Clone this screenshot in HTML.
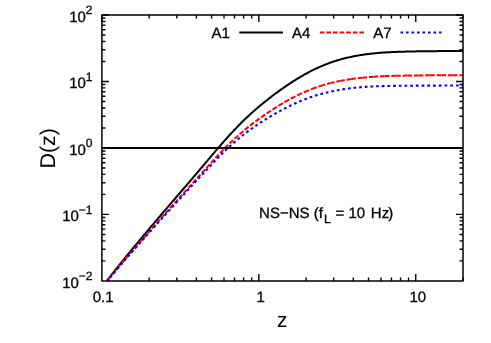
<!DOCTYPE html>
<html><head><meta charset="utf-8"><title>D(z)</title>
<style>
html,body{margin:0;padding:0;background:#fff;}
body{width:491px;height:343px;overflow:hidden;}
svg{display:block;font-family:"Liberation Sans",sans-serif;fill:#000;will-change:transform;text-rendering:geometricPrecision;}
text{stroke:#000;stroke-width:0.3px;}
text[stroke=none]{stroke:none;}
</style></head><body>
<svg width="491" height="343" viewBox="0 0 491 343">
<rect width="491" height="343" fill="#fff"/>
<g fill="none" stroke-linejoin="round">
<path d="M106.85,280.90 L107.85,279.61 L108.85,278.32 L109.85,277.03 L110.85,275.75 L111.85,274.47 L112.85,273.19 L113.85,271.92 L114.85,270.66 L115.85,269.39 L116.85,268.13 L117.85,266.88 L118.85,265.62 L119.85,264.37 L120.85,263.13 L121.85,261.89 L122.85,260.65 L123.85,259.41 L124.85,258.18 L125.85,256.95 L126.85,255.72 L127.85,254.50 L128.85,253.28 L129.85,252.06 L130.85,250.84 L131.85,249.63 L132.85,248.41 L133.85,247.20 L134.85,246.00 L135.85,244.79 L136.85,243.59 L137.85,242.39 L138.85,241.19 L139.85,239.99 L140.85,238.79 L141.85,237.60 L142.85,236.40 L143.85,235.21 L144.85,234.02 L145.85,232.83 L146.85,231.64 L147.85,230.45 L148.85,229.27 L149.85,228.08 L150.85,226.90 L151.85,225.72 L152.85,224.54 L153.85,223.36 L154.85,222.18 L155.85,221.00 L156.85,219.83 L157.85,218.65 L158.85,217.48 L159.85,216.31 L160.85,215.13 L161.85,213.96 L162.85,212.79 L163.85,211.62 L164.85,210.46 L165.85,209.29 L166.85,208.12 L167.85,206.96 L168.85,205.79 L169.85,204.63 L170.85,203.46 L171.85,202.30 L172.85,201.14 L173.85,199.98 L174.85,198.81 L175.85,197.65 L176.85,196.49 L177.85,195.33 L178.85,194.17 L179.85,193.01 L180.85,191.85 L181.85,190.69 L182.85,189.52 L183.85,188.36 L184.85,187.20 L185.85,186.04 L186.85,184.87 L187.85,183.71 L188.85,182.54 L189.85,181.37 L190.85,180.21 L191.85,179.04 L192.85,177.87 L193.85,176.69 L194.85,175.52 L195.85,174.35 L196.85,173.17 L197.85,171.99 L198.85,170.82 L199.85,169.64 L200.85,168.46 L201.85,167.27 L202.85,166.09 L203.85,164.91 L204.85,163.72 L205.85,162.54 L206.85,161.35 L207.85,160.17 L208.85,158.98 L209.85,157.79 L210.85,156.60 L211.85,155.42 L212.85,154.23 L213.85,153.05 L214.85,151.87 L215.85,150.69 L216.85,149.52 L217.85,148.35 L218.85,147.19 L219.85,146.03 L220.85,144.88 L221.85,143.73 L222.85,142.59 L223.85,141.46 L224.85,140.33 L225.85,139.21 L226.85,138.10 L227.85,136.99 L228.85,135.89 L229.85,134.80 L230.85,133.72 L231.85,132.64 L232.85,131.57 L233.85,130.51 L234.85,129.46 L235.85,128.41 L236.85,127.37 L237.85,126.34 L238.85,125.31 L239.85,124.30 L240.85,123.29 L241.85,122.29 L242.85,121.30 L243.85,120.32 L244.85,119.34 L245.85,118.38 L246.85,117.43 L247.85,116.48 L248.85,115.55 L249.85,114.63 L250.85,113.71 L251.85,112.81 L252.85,111.91 L253.85,111.02 L254.85,110.14 L255.85,109.27 L256.85,108.41 L257.85,107.56 L258.85,106.72 L259.85,105.88 L260.85,105.05 L261.85,104.22 L262.85,103.41 L263.85,102.60 L264.85,101.79 L265.85,100.99 L266.85,100.20 L267.85,99.41 L268.85,98.63 L269.85,97.86 L270.85,97.09 L271.85,96.32 L272.85,95.56 L273.85,94.81 L274.85,94.06 L275.85,93.32 L276.85,92.58 L277.85,91.85 L278.85,91.12 L279.85,90.40 L280.85,89.68 L281.85,88.97 L282.85,88.27 L283.85,87.57 L284.85,86.88 L285.85,86.19 L286.85,85.51 L287.85,84.84 L288.85,84.17 L289.85,83.51 L290.85,82.86 L291.85,82.21 L292.85,81.57 L293.85,80.93 L294.85,80.30 L295.85,79.68 L296.85,79.07 L297.85,78.46 L298.85,77.86 L299.85,77.26 L300.85,76.67 L301.85,76.09 L302.85,75.52 L303.85,74.95 L304.85,74.39 L305.85,73.83 L306.85,73.29 L307.85,72.75 L308.85,72.21 L309.85,71.69 L310.85,71.17 L311.85,70.66 L312.85,70.16 L313.85,69.66 L314.85,69.17 L315.85,68.69 L316.85,68.22 L317.85,67.76 L318.85,67.30 L319.85,66.86 L320.85,66.42 L321.85,65.99 L322.85,65.56 L323.85,65.15 L324.85,64.75 L325.85,64.35 L326.85,63.96 L327.85,63.58 L328.85,63.21 L329.85,62.85 L330.85,62.49 L331.85,62.15 L332.85,61.81 L333.85,61.48 L334.85,61.15 L335.85,60.84 L336.85,60.53 L337.85,60.23 L338.85,59.93 L339.85,59.64 L340.85,59.36 L341.85,59.09 L342.85,58.82 L343.85,58.56 L344.85,58.30 L345.85,58.05 L346.85,57.81 L347.85,57.58 L348.85,57.35 L349.85,57.12 L350.85,56.91 L351.85,56.69 L352.85,56.49 L353.85,56.29 L354.85,56.10 L355.85,55.91 L356.85,55.73 L357.85,55.55 L358.85,55.38 L359.85,55.22 L360.85,55.06 L361.85,54.90 L362.85,54.75 L363.85,54.61 L364.85,54.46 L365.85,54.33 L366.85,54.20 L367.85,54.07 L368.85,53.95 L369.85,53.83 L370.85,53.71 L371.85,53.60 L372.85,53.49 L373.85,53.39 L374.85,53.29 L375.85,53.19 L376.85,53.10 L377.85,53.01 L378.85,52.92 L379.85,52.84 L380.85,52.76 L381.85,52.69 L382.85,52.61 L383.85,52.54 L384.85,52.48 L385.85,52.42 L386.85,52.36 L387.85,52.30 L388.85,52.24 L389.85,52.19 L390.85,52.14 L391.85,52.10 L392.85,52.05 L393.85,52.01 L394.85,51.97 L395.85,51.93 L396.85,51.89 L397.85,51.86 L398.85,51.82 L399.85,51.79 L400.85,51.76 L401.85,51.73 L402.85,51.70 L403.85,51.67 L404.85,51.64 L405.85,51.61 L406.85,51.58 L407.85,51.56 L408.85,51.53 L409.85,51.51 L410.85,51.48 L411.85,51.46 L412.85,51.44 L413.85,51.42 L414.85,51.40 L415.85,51.38 L416.85,51.36 L417.85,51.34 L418.85,51.33 L419.85,51.31 L420.85,51.29 L421.85,51.28 L422.85,51.26 L423.85,51.25 L424.85,51.24 L425.85,51.23 L426.85,51.21 L427.85,51.20 L428.85,51.19 L429.85,51.18 L430.85,51.17 L431.85,51.16 L432.85,51.15 L433.85,51.15 L434.85,51.14 L435.85,51.13 L436.85,51.13 L437.85,51.12 L438.85,51.11 L439.85,51.11 L440.85,51.10 L441.85,51.10 L442.85,51.10 L443.85,51.09 L444.85,51.09 L445.85,51.09 L446.85,51.08 L447.85,51.08 L448.85,51.08 L449.85,51.08 L450.85,51.08 L451.85,51.07 L452.85,51.07 L453.85,51.07 L454.85,51.07 L455.85,51.07 L456.85,51.07 L457.85,51.07 L458.85,51.07 L459.85,51.07 L460.85,51.07 L461.85,51.07 L462.85,51.07 L462.96,51.07" stroke="#000" stroke-width="2.0"/>
<path d="M107.21,280.90 L107.27,280.82 M108.46,279.34 L108.97,278.71 L109.47,278.09 L109.97,277.47 L110.47,276.85 L110.98,276.23 L111.48,275.60 L111.49,275.60 M112.69,274.13 L113.19,273.51 L113.70,272.89 L114.21,272.27 L114.72,271.65 L115.22,271.04 L115.73,270.42 L115.74,270.41 M116.95,268.95 L117.46,268.33 L117.97,267.72 L118.49,267.10 L119.00,266.49 L119.51,265.88 L120.02,265.26 L120.03,265.25 M121.25,263.80 L121.77,263.19 L122.29,262.58 L122.80,261.96 L123.32,261.35 L123.84,260.74 L124.35,260.13 L124.36,260.12 M125.59,258.68 L126.11,258.07 L126.63,257.46 L127.15,256.85 L127.67,256.24 L128.19,255.64 L128.72,255.03 L128.73,255.02 M129.97,253.58 L130.49,252.97 L131.01,252.37 L131.53,251.76 L132.06,251.16 L132.58,250.55 L133.11,249.95 L133.12,249.93 M134.37,248.50 L134.89,247.89 L135.42,247.29 L135.94,246.69 L136.47,246.09 L137.00,245.48 L137.52,244.88 L137.54,244.86 M138.79,243.43 L139.32,242.83 L139.84,242.23 L140.37,241.63 L140.90,241.03 L141.43,240.43 L141.96,239.83 L141.97,239.81 M143.23,238.38 L143.76,237.78 L144.29,237.18 L144.81,236.58 L145.34,235.98 L145.87,235.38 L146.40,234.78 L146.42,234.76 M147.68,233.34 L148.21,232.74 L148.74,232.14 L149.27,231.54 L149.80,230.94 L150.33,230.34 L150.86,229.74 L150.88,229.72 M152.14,228.30 L152.67,227.70 L153.21,227.10 L153.74,226.50 L154.27,225.90 L154.80,225.31 L155.33,224.71 L155.35,224.68 M156.62,223.26 L157.15,222.66 L157.68,222.07 L158.21,221.47 L158.75,220.87 L159.28,220.28 L159.81,219.68 L159.84,219.65 M161.10,218.23 L161.63,217.64 L162.17,217.04 L162.70,216.44 L163.23,215.85 L163.77,215.25 L164.30,214.65 L164.33,214.62 M165.59,213.21 L166.13,212.61 L166.66,212.01 L167.19,211.42 L167.73,210.82 L168.26,210.23 L168.79,209.63 L168.82,209.60 M170.09,208.18 L170.63,207.59 L171.16,206.99 L171.70,206.40 L172.23,205.80 L172.76,205.21 L173.30,204.61 L173.33,204.58 M174.60,203.16 L175.13,202.57 L175.67,201.97 L176.20,201.38 L176.74,200.78 L177.27,200.19 L177.81,199.59 L177.84,199.56 M179.11,198.15 L179.65,197.55 L180.18,196.96 L180.72,196.36 L181.26,195.77 L181.79,195.17 L182.33,194.58 L182.36,194.54 M183.63,193.13 L184.17,192.54 L184.71,191.94 L185.24,191.35 L185.78,190.75 L186.31,190.16 L186.85,189.57 L186.89,189.52 M188.16,188.11 L188.70,187.52 L189.23,186.93 L189.77,186.33 L190.31,185.74 L190.84,185.15 L191.38,184.55 L191.42,184.51 M192.69,183.10 L193.23,182.51 L193.76,181.91 L194.30,181.32 L194.84,180.73 L195.37,180.13 L195.91,179.54 L195.95,179.49 M197.23,178.08 L197.76,177.49 L198.30,176.90 L198.84,176.30 L199.37,175.71 L199.91,175.12 L200.45,174.52 L200.49,174.48 M201.77,173.07 L202.30,172.48 L202.84,171.88 L203.38,171.29 L203.92,170.70 L204.45,170.10 L204.99,169.51 L205.04,169.46 M206.31,168.05 L206.85,167.46 L207.39,166.87 L207.93,166.28 L208.46,165.68 L209.00,165.09 L209.54,164.50 L209.59,164.45 M210.86,163.04 L211.40,162.45 L211.94,161.86 L212.48,161.27 L213.02,160.68 L213.56,160.09 L214.10,159.50 L214.15,159.44 M215.44,158.05 L215.98,157.46 L216.53,156.87 L217.07,156.29 L217.62,155.70 L218.16,155.12 L218.71,154.54 L218.77,154.48 M220.07,153.10 L220.62,152.52 L221.18,151.94 L221.73,151.37 L222.29,150.79 L222.85,150.22 L223.41,149.65 L223.46,149.59 M224.80,148.24 L225.36,147.67 L225.93,147.10 L226.49,146.54 L227.06,145.98 L227.63,145.42 L228.20,144.86 L228.26,144.80 M229.63,143.48 L230.21,142.92 L230.79,142.37 L231.37,141.82 L231.95,141.27 L232.53,140.73 L233.12,140.18 L233.18,140.12 M234.58,138.83 L235.17,138.29 L235.76,137.75 L236.35,137.22 L236.95,136.68 L237.54,136.15 L238.14,135.62 L238.21,135.56 M239.63,134.30 L240.23,133.77 L240.84,133.25 L241.44,132.72 L242.05,132.20 L242.66,131.68 L243.27,131.16 L243.34,131.10 M244.79,129.88 L245.41,129.37 L246.02,128.86 L246.64,128.36 L247.26,127.85 L247.89,127.35 L248.51,126.84 L248.58,126.78 M250.07,125.60 L250.70,125.11 L251.33,124.62 L251.96,124.13 L252.60,123.64 L253.23,123.15 L253.87,122.67 L253.95,122.61 M255.47,121.46 L256.11,120.99 L256.75,120.51 L257.40,120.04 L258.04,119.57 L258.69,119.10 L259.34,118.63 L259.47,118.54 M261.01,117.44 L261.67,116.98 L262.32,116.52 L262.98,116.06 L263.64,115.60 L264.29,115.15 L264.95,114.69 L265.13,114.58 M266.70,113.51 L267.36,113.06 L268.03,112.62 L268.69,112.17 L269.36,111.73 L270.03,111.29 L270.69,110.85 L270.92,110.70 M272.51,109.67 L273.18,109.23 L273.86,108.80 L274.53,108.37 L275.21,107.94 L275.88,107.52 L276.56,107.09 L276.84,106.92 M278.45,105.91 L279.13,105.50 L279.81,105.08 L280.50,104.66 L281.18,104.25 L281.87,103.84 L282.55,103.43 L282.89,103.23 M284.52,102.27 L285.22,101.87 L285.91,101.47 L286.60,101.07 L287.30,100.67 L288.00,100.28 L288.69,99.89 L289.08,99.68 M290.75,98.76 L291.45,98.38 L292.16,98.01 L292.87,97.63 L293.57,97.26 L294.29,96.89 L295.00,96.53 L295.45,96.30 M297.15,95.45 L297.87,95.09 L298.59,94.74 L299.31,94.40 L300.03,94.05 L300.75,93.71 L301.48,93.38 L302.00,93.14 M303.73,92.36 L304.46,92.04 L305.20,91.72 L305.93,91.40 L306.67,91.09 L307.41,90.78 L308.15,90.47 L308.89,90.17 L309.00,90.12 M310.77,89.42 L311.51,89.13 L312.26,88.84 L313.01,88.56 L313.75,88.28 L314.51,88.00 L315.26,87.73 L316.01,87.46 L316.70,87.22 M318.50,86.60 L319.26,86.35 L320.02,86.10 L320.78,85.85 L321.54,85.61 L322.31,85.37 L323.07,85.14 L323.84,84.91 L324.60,84.68 L325.18,84.52 M327.01,84.00 L327.78,83.79 L328.56,83.58 L329.33,83.38 L330.11,83.18 L330.64,83.05 M330.88,82.99 L331.65,82.80 L332.43,82.61 L333.21,82.42 L333.99,82.24 L334.52,82.12 M336.38,81.71 L337.16,81.54 L337.94,81.38 L338.73,81.22 L339.51,81.06 L340.30,80.91 L340.44,80.88 M340.69,80.83 L341.48,80.68 L342.26,80.53 L343.05,80.39 L343.84,80.25 L344.62,80.11 L344.77,80.08 M346.65,79.77 L347.44,79.64 L348.23,79.51 L349.02,79.39 L349.81,79.27 L350.60,79.15 L351.12,79.08 M351.37,79.04 L352.16,78.93 L352.95,78.82 L353.74,78.71 L354.54,78.61 L355.33,78.51 L355.85,78.44 M357.74,78.22 L358.53,78.12 L359.33,78.03 L360.13,77.95 L360.92,77.86 L361.72,77.78 L362.25,77.72 M362.50,77.70 L363.29,77.62 L364.09,77.55 L364.89,77.47 L365.68,77.40 L366.48,77.33 L367.01,77.28 M368.91,77.12 L369.71,77.06 L370.50,77.00 L371.30,76.94 L372.10,76.88 L372.90,76.82 L373.44,76.79 M373.69,76.77 L374.49,76.72 L375.29,76.66 L376.08,76.61 L376.88,76.57 L377.68,76.52 L378.23,76.49 M380.12,76.38 L380.92,76.34 L381.72,76.30 L382.52,76.26 L383.32,76.23 L384.12,76.19 L384.67,76.17 M384.92,76.16 L385.72,76.12 L386.52,76.09 L387.32,76.06 L388.12,76.03 L388.92,76.01 L389.47,75.99 M391.37,75.93 L392.17,75.90 L392.97,75.88 L393.77,75.86 L394.57,75.84 L395.37,75.82 L395.94,75.80 M396.19,75.80 L396.99,75.78 L397.79,75.76 L398.59,75.74 L399.39,75.73 L400.19,75.71 L400.75,75.70 M402.65,75.66 L403.45,75.65 L404.25,75.63 L405.05,75.62 L405.85,75.60 L406.65,75.59 L407.22,75.58 M407.47,75.58 L408.27,75.56 L409.07,75.55 L409.87,75.54 L410.67,75.53 L411.47,75.52 L412.05,75.51 M413.95,75.48 L414.75,75.47 L415.55,75.46 L416.35,75.45 L417.15,75.44 L417.95,75.43 L418.53,75.43 M418.78,75.43 L419.58,75.42 L420.38,75.41 L421.18,75.40 L421.98,75.39 L422.78,75.39 L423.36,75.38 M425.26,75.37 L426.06,75.36 L426.86,75.35 L427.66,75.35 L428.46,75.34 L429.26,75.34 L429.85,75.33 M430.10,75.33 L430.90,75.33 L431.70,75.32 L432.50,75.32 L433.30,75.31 L434.10,75.31 L434.70,75.31 M436.60,75.30 L437.40,75.30 L438.20,75.29 L439.00,75.29 L439.80,75.29 L440.60,75.29 L441.20,75.28 M441.45,75.28 L442.25,75.28 L443.05,75.28 L443.85,75.28 L444.65,75.28 L445.45,75.28 L446.05,75.27 M447.95,75.27 L448.75,75.27 L449.55,75.27 L450.35,75.27 L451.15,75.27 L451.95,75.27 L452.56,75.27 M452.81,75.27 L453.61,75.27 L454.41,75.27 L455.21,75.27 L456.01,75.26 L456.81,75.26 L457.43,75.26 M459.33,75.26 L460.13,75.26 L460.93,75.26 L461.73,75.26 L462.53,75.26 L462.96,75.26" stroke="#ff0000" stroke-width="2.0"/>
<path d="M107.32,280.90 L107.83,280.28 L108.21,279.82 M109.99,277.66 L110.50,277.04 L111.01,276.43 L111.52,275.81 L111.72,275.58 M113.51,273.43 L114.03,272.81 L114.54,272.20 L115.06,271.59 L115.25,271.36 M117.06,269.21 L117.58,268.60 L118.09,267.99 L118.61,267.38 L118.81,267.15 M120.63,265.02 L121.15,264.41 L121.67,263.80 L122.19,263.19 L122.39,262.97 M124.22,260.84 L124.74,260.23 L125.26,259.63 L125.79,259.02 L125.98,258.79 M127.83,256.67 L128.35,256.07 L128.88,255.46 L129.41,254.86 L129.60,254.64 M131.46,252.52 L131.98,251.92 L132.51,251.32 L133.04,250.71 L133.24,250.49 M135.10,248.38 L135.63,247.78 L136.16,247.18 L136.69,246.58 L136.89,246.35 M138.76,244.25 L139.29,243.65 L139.82,243.05 L140.35,242.45 L140.55,242.23 M142.43,240.12 L142.96,239.53 L143.49,238.93 L144.02,238.33 L144.22,238.11 M146.10,236.01 L146.64,235.41 L147.17,234.81 L147.71,234.22 L147.91,233.99 M149.79,231.89 L150.33,231.30 L150.86,230.70 L151.40,230.11 L151.60,229.88 M153.49,227.79 L154.02,227.19 L154.56,226.60 L155.09,226.00 L155.29,225.78 M157.19,223.68 L157.72,223.09 L158.26,222.49 L158.80,221.90 L159.00,221.68 M160.90,219.58 L161.43,218.99 L161.97,218.40 L162.51,217.80 L162.71,217.58 M164.61,215.48 L165.15,214.89 L165.69,214.30 L166.22,213.71 L166.43,213.49 M168.33,211.39 L168.87,210.80 L169.41,210.21 L169.95,209.62 L170.15,209.39 M172.06,207.30 L172.60,206.71 L173.14,206.12 L173.68,205.53 L173.88,205.30 M175.79,203.21 L176.33,202.62 L176.87,202.03 L177.41,201.44 L177.61,201.22 M179.53,199.13 L180.07,198.54 L180.61,197.95 L181.15,197.36 L181.36,197.14 M183.28,195.05 L183.82,194.46 L184.36,193.87 L184.90,193.28 L185.11,193.06 M187.03,190.97 L187.57,190.38 L188.11,189.79 L188.66,189.20 L188.86,188.98 M190.79,186.89 L191.33,186.30 L191.87,185.72 L192.42,185.13 L192.62,184.91 M194.55,182.82 L195.09,182.23 L195.64,181.64 L196.18,181.06 L196.39,180.84 M198.32,178.75 L198.86,178.16 L199.41,177.58 L199.95,176.99 L200.16,176.77 M202.10,174.68 L202.64,174.10 L203.18,173.51 L203.73,172.92 L203.93,172.70 M205.88,170.62 L206.42,170.03 L206.97,169.45 L207.52,168.86 L207.72,168.64 M209.67,166.56 L210.22,165.98 L210.76,165.39 L211.31,164.81 L211.52,164.59 M213.48,162.52 L214.03,161.94 L214.58,161.36 L215.13,160.78 L215.34,160.56 M217.32,158.50 L217.88,157.93 L218.44,157.36 L219.00,156.78 L219.21,156.57 M221.22,154.54 L221.79,153.98 L222.36,153.42 L222.93,152.85 L223.14,152.64 M225.19,150.65 L225.77,150.10 L226.35,149.55 L226.94,149.00 L227.15,148.80 M229.25,146.85 L229.84,146.31 L230.44,145.77 L231.03,145.24 L231.25,145.04 M233.40,143.14 L234.00,142.61 L234.61,142.09 L235.21,141.57 L235.44,141.37 M237.63,139.52 L238.24,139.00 L238.85,138.49 L239.47,137.98 L239.70,137.79 M241.93,135.98 L242.56,135.49 L243.18,134.99 L243.81,134.49 L244.05,134.31 M246.32,132.56 L246.96,132.07 L247.60,131.59 L248.24,131.11 L248.48,130.94 M250.80,129.24 L251.45,128.77 L252.10,128.31 L252.76,127.85 L253.00,127.67 M255.36,126.04 L256.03,125.59 L256.69,125.14 L257.35,124.69 L257.60,124.53 M260.00,122.94 L260.68,122.51 L261.35,122.07 L262.02,121.64 L262.28,121.48 M264.71,119.95 L265.39,119.52 L266.07,119.10 L266.75,118.69 L267.01,118.53 M269.48,117.04 L270.16,116.63 L270.85,116.22 L271.54,115.81 L271.80,115.66 M274.29,114.21 L274.99,113.81 L275.68,113.41 L276.38,113.02 L276.64,112.87 M279.16,111.46 L279.86,111.08 L280.56,110.69 L281.26,110.31 L281.53,110.17 M284.08,108.81 L284.79,108.44 L285.50,108.07 L286.21,107.70 L286.47,107.56 M289.06,106.26 L289.77,105.91 L290.49,105.56 L291.21,105.21 L291.48,105.08 M294.11,103.85 L294.83,103.52 L295.56,103.19 L296.29,102.87 L296.57,102.75 M299.23,101.60 L299.97,101.29 L300.70,100.98 L301.45,100.68 L301.72,100.57 M304.42,99.51 L305.17,99.23 L305.92,98.95 L306.67,98.67 L306.95,98.56 M309.69,97.59 L310.44,97.33 L311.20,97.07 L311.96,96.82 L312.24,96.72 M315.01,95.83 L315.78,95.59 L316.54,95.36 L317.31,95.13 L317.59,95.04 M320.39,94.23 L321.16,94.01 L321.94,93.80 L322.71,93.60 L323.00,93.52 M325.82,92.79 L326.60,92.60 L327.38,92.41 L328.16,92.22 L328.45,92.16 M331.30,91.51 L332.08,91.34 L332.86,91.17 L333.65,91.01 L333.94,90.95 M336.82,90.38 L337.60,90.24 L338.39,90.09 L339.18,89.95 L339.47,89.90 M342.36,89.41 L343.15,89.28 L343.94,89.15 L344.73,89.03 L345.03,88.99 M347.94,88.57 L348.73,88.47 L349.53,88.36 L350.32,88.26 L350.62,88.22 M353.54,87.88 L354.34,87.80 L355.13,87.71 L355.93,87.63 L356.23,87.61 M359.16,87.34 L359.96,87.27 L360.76,87.20 L361.56,87.14 L361.86,87.12 M364.80,86.91 L365.60,86.86 L366.40,86.81 L367.20,86.76 L367.50,86.74 M370.45,86.58 L371.25,86.54 L372.05,86.50 L372.85,86.46 L373.15,86.45 M376.11,86.32 L376.91,86.29 L377.71,86.26 L378.51,86.23 L378.81,86.22 M381.78,86.12 L382.58,86.10 L383.38,86.08 L384.18,86.06 L384.48,86.05 M387.45,85.98 L388.25,85.96 L389.05,85.95 L389.85,85.93 L390.15,85.93 M393.13,85.88 L393.93,85.86 L394.73,85.85 L395.53,85.84 L395.83,85.84 M398.82,85.80 L399.62,85.79 L400.42,85.79 L401.22,85.78 L401.52,85.77 M404.51,85.75 L405.31,85.74 L406.11,85.73 L406.91,85.72 L407.21,85.72 M410.20,85.70 L411.00,85.69 L411.80,85.69 L412.60,85.68 L412.90,85.68 M415.90,85.66 L416.70,85.66 L417.50,85.65 L418.30,85.65 L418.60,85.64 M421.61,85.63 L422.41,85.63 L423.21,85.62 L424.01,85.62 L424.31,85.62 M427.32,85.61 L428.12,85.60 L428.92,85.60 L429.72,85.60 L430.02,85.60 M433.04,85.59 L433.84,85.59 L434.64,85.59 L435.44,85.58 L435.74,85.58 M438.76,85.58 L439.56,85.58 L440.36,85.58 L441.16,85.57 L441.46,85.57 M444.49,85.57 L445.29,85.57 L446.09,85.57 L446.89,85.57 L447.19,85.57 M450.22,85.57 L451.02,85.57 L451.82,85.57 L452.62,85.57 L452.92,85.56 M455.96,85.56 L456.76,85.56 L457.56,85.56 L458.36,85.56 L458.66,85.56 M461.70,85.56 L462.50,85.56 L462.96,85.56" stroke="#0000ff" stroke-width="2.1"/>
<path d="M101.9,148.05 H463.0" stroke="#000" stroke-width="1.9"/>
<path d="M239.3,32.5 H283" stroke="#000" stroke-width="2.0"/>
<path d="M319.8,32.5 H364.4" stroke="#ff0000" stroke-width="2.0" stroke-dasharray="4.6 2.0"/>
<path d="M400.5,32.5 H442.2" stroke="#0000ff" stroke-width="2.1" stroke-dasharray="2.6 2.9"/>
<path d="M101.90,15.0 v7 M149.14,280.9 v-3.5 M149.14,15.0 v3.5 M176.77,280.9 v-3.5 M176.77,15.0 v3.5 M196.38,280.9 v-3.5 M196.38,15.0 v3.5 M211.59,280.9 v-3.5 M211.59,15.0 v3.5 M224.02,280.9 v-3.5 M224.02,15.0 v3.5 M234.52,280.9 v-3.5 M234.52,15.0 v3.5 M243.62,280.9 v-3.5 M243.62,15.0 v3.5 M251.65,280.9 v-3.5 M251.65,15.0 v3.5 M258.83,280.9 v-7 M258.83,15.0 v7 M306.07,280.9 v-3.5 M306.07,15.0 v3.5 M333.70,280.9 v-3.5 M333.70,15.0 v3.5 M353.31,280.9 v-3.5 M353.31,15.0 v3.5 M368.52,280.9 v-3.5 M368.52,15.0 v3.5 M380.94,280.9 v-3.5 M380.94,15.0 v3.5 M391.45,280.9 v-3.5 M391.45,15.0 v3.5 M400.55,280.9 v-3.5 M400.55,15.0 v3.5 M408.58,280.9 v-3.5 M408.58,15.0 v3.5 M415.76,280.9 v-7 M415.76,15.0 v7 M463.00,280.9 v-3.5 M463.00,15.0 v3.5 M101.9,260.89 h3.5 M463.0,260.89 h-3.5 M101.9,249.18 h3.5 M463.0,249.18 h-3.5 M101.9,240.88 h3.5 M463.0,240.88 h-3.5 M101.9,234.44 h3.5 M463.0,234.44 h-3.5 M101.9,229.17 h3.5 M463.0,229.17 h-3.5 M101.9,224.72 h3.5 M463.0,224.72 h-3.5 M101.9,220.87 h3.5 M463.0,220.87 h-3.5 M101.9,217.47 h3.5 M463.0,217.47 h-3.5 M101.9,214.42 h7 M463.0,214.42 h-7 M101.9,194.41 h3.5 M463.0,194.41 h-3.5 M101.9,182.71 h3.5 M463.0,182.71 h-3.5 M101.9,174.40 h3.5 M463.0,174.40 h-3.5 M101.9,167.96 h3.5 M463.0,167.96 h-3.5 M101.9,162.70 h3.5 M463.0,162.70 h-3.5 M101.9,158.25 h3.5 M463.0,158.25 h-3.5 M101.9,154.39 h3.5 M463.0,154.39 h-3.5 M101.9,150.99 h3.5 M463.0,150.99 h-3.5 M101.9,147.95 h7 M463.0,147.95 h-7 M101.9,127.94 h3.5 M463.0,127.94 h-3.5 M101.9,116.23 h3.5 M463.0,116.23 h-3.5 M101.9,107.93 h3.5 M463.0,107.93 h-3.5 M101.9,101.49 h3.5 M463.0,101.49 h-3.5 M101.9,96.22 h3.5 M463.0,96.22 h-3.5 M101.9,91.77 h3.5 M463.0,91.77 h-3.5 M101.9,87.92 h3.5 M463.0,87.92 h-3.5 M101.9,84.52 h3.5 M463.0,84.52 h-3.5 M101.9,81.47 h7 M463.0,81.47 h-7 M101.9,61.46 h3.5 M463.0,61.46 h-3.5 M101.9,49.76 h3.5 M463.0,49.76 h-3.5 M101.9,41.45 h3.5 M463.0,41.45 h-3.5 M101.9,35.01 h3.5 M463.0,35.01 h-3.5 M101.9,29.75 h3.5 M463.0,29.75 h-3.5 M101.9,25.30 h3.5 M463.0,25.30 h-3.5 M101.9,21.44 h3.5 M463.0,21.44 h-3.5 M101.9,18.04 h3.5 M463.0,18.04 h-3.5 M101.9,15.00 h7 M463.0,15.00 h-7" stroke="#000" stroke-width="1.4"/>
<rect x="101.9" y="15.0" width="361.1" height="265.9" stroke="#000" stroke-width="1.5"/>
</g>
<text x="92.5" y="21.8" text-anchor="end" font-size="15">10<tspan dy="-7.5" font-size="12">2</tspan></text>
<text x="92.5" y="88.3" text-anchor="end" font-size="15">10<tspan dy="-7.5" font-size="12">1</tspan></text>
<text x="92.5" y="154.8" text-anchor="end" font-size="15">10<tspan dy="-7.5" font-size="12">0</tspan></text>
<text x="92.5" y="221.2" text-anchor="end" font-size="15">10<tspan dy="-7.5" font-size="12">−1</tspan></text>
<text x="92.5" y="287.7" text-anchor="end" font-size="15">10<tspan dy="-7.5" font-size="12">−2</tspan></text>
<text x="103.2" y="301.6" text-anchor="middle" font-size="15">0.1</text>
<text x="260.6" y="301.6" text-anchor="middle" font-size="15">1</text>
<text x="417.8" y="301.6" text-anchor="middle" font-size="15">10</text>
<text x="211.4" y="38" font-size="15">A1</text>
<text x="291.9" y="38" font-size="15">A4</text>
<text x="373.2" y="38" font-size="15">A7</text>
<text x="259.1" y="218" font-size="15">NS−NS (f<tspan dy="5.4" dx="1.2" font-size="12">L</tspan><tspan dy="-5.4" dx="0.6"> = 10</tspan><tspan dx="1.5"> Hz</tspan><tspan dx="-0.8">)</tspan></text>
<text x="282.3" y="327" text-anchor="middle" font-size="20.8" stroke="none">z</text>
<text transform="translate(55,148.3) rotate(-90)" text-anchor="middle" font-size="21.4" stroke="none">D(z)</text>
</svg>
</body></html>
